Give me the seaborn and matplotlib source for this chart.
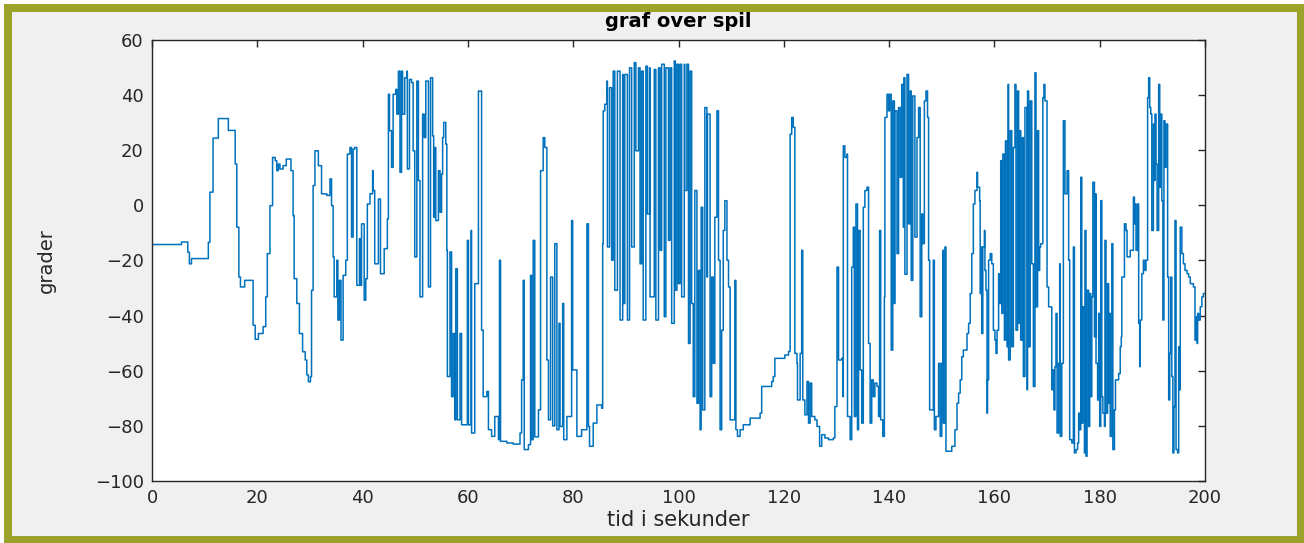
import matplotlib
matplotlib.use("Agg")
import matplotlib.pyplot as plt
from matplotlib.patches import Rectangle
import seaborn as sns
import pandas as pd

# time (s) of each change point and held angle (grader)
tid = [
    0.0, 5.6, 6.8, 7.1, 7.5, 10.7, 11.0, 11.6, 12.6, 14.5, 15.8, 16.1, 16.5, 16.8, 17.6,
    19.2, 19.6, 20.2, 21.1, 21.6, 21.9, 22.4, 22.9, 23.4, 23.7, 24.0, 24.3, 24.9, 25.5,
    26.4, 26.8, 27.0, 27.5, 28.0, 28.6, 29.1, 29.4, 29.7, 30.1, 30.3,
    30.6, 30.95, 31.6, 32.2, 33.2, 33.8, 34.1, 34.4, 34.6, 35.1, 35.3, 35.6, 35.9, 36.3,
    36.8, 37.1, 37.6, 37.9, 38.2, 38.5, 38.9, 39.4, 39.6, 39.8, 40.3, 40.6, 40.9, 41.4,
    41.9, 42.0, 42.3, 43.0, 43.4, 44.1, 44.7, 44.9, 45.1, 45.5, 45.8, 46.3, 46.5, 46.8,
    47.1, 47.4, 47.6, 48.0, 48.4, 48.5, 48.9, 49.3, 49.6, 49.9, 50.3, 50.6, 50.9, 51.4,
    51.7, 52.0, 52.5, 52.9, 53.3, 53.5, 53.7, 53.9, 54.4, 54.7, 55.0, 55.2, 55.4, 55.8,
    56.0, 56.1, 56.6, 56.9, 57.2, 57.5, 57.7, 58.0, 58.5,
    58.8, 59.9, 60.1, 60.6, 60.7, 61.3, 62.0, 62.6, 62.9, 63.6, 63.9, 64.5, 65.1, 65.8,
    66.0, 66.2, 67.4, 68.6, 69.9, 70.2, 70.5, 70.7, 71.5, 71.9, 72.1, 72.4, 72.7, 73.4,
    73.8, 74.3, 74.6, 75.0, 75.3, 75.7, 76.1, 76.5, 76.9, 77.3, 77.5, 78.0, 78.2, 78.8,
    79.7, 79.9, 80.7, 81.6, 82.6, 82.9, 83.1, 83.8, 84.5, 85.4, 85.6, 85.7, 86.0, 86.4,
    86.5, 86.9,
    87.3, 87.6, 87.9, 88.4, 88.9, 89.4, 89.5, 89.8, 90.3, 90.7, 91.1, 91.6, 91.9, 92.4,
    92.7, 93.0, 93.3, 93.8, 94.1, 94.5, 94.6, 95.4, 95.7, 96.2, 96.5, 96.8, 97.3, 97.6,
    98.1, 98.4, 98.7, 99.2, 99.4, 99.7, 100.0, 100.3, 100.6, 101.1, 101.2, 101.6, 101.9,
    102.2, 102.5, 102.8, 103.1, 103.5, 103.8, 104.1, 104.3, 104.6, 105.0, 105.4, 105.5,
    106.0, 106.3, 106.6, 106.9, 107.3, 107.6, 107.9, 108.2, 108.5, 108.8, 109.2, 109.5,
    109.8, 110.4, 110.7, 110.9, 111.2, 111.7, 112.3, 113.6, 115.5, 115.8,
    117.7, 118.0, 118.3, 120.2, 120.9, 121.2, 121.5, 121.8, 122.1, 122.5, 122.6, 123.1,
    123.4, 123.6, 124.0, 124.4, 124.7, 125.0, 125.3, 125.9, 126.3, 126.8, 127.2, 127.8,
    128.5, 129.4, 129.7, 130.1, 130.4, 131.0, 131.2, 131.3, 131.6, 132.0, 132.1, 132.6,
    132.9, 133.2, 133.4, 133.7, 134.0, 134.2, 134.5, 134.8, 135.1, 135.4, 135.8, 136.1,
    136.4, 136.7, 137.0, 137.3, 137.7, 138.0, 138.2, 138.4, 138.8, 139.1, 139.2, 139.6,
    139.9, 140.1, 140.4, 140.7, 141.0, 141.1, 141.5, 141.8, 142.1, 142.4, 142.7, 142.8,
    143.0, 143.4, 143.7,
    144.0, 144.2, 144.5, 144.9, 145.3, 145.6, 145.9, 146.2, 146.4, 146.7, 147.0, 147.3,
    147.5, 147.7, 148.3, 148.4, 148.6, 148.9, 149.4, 149.7, 150.0, 150.2, 150.3, 150.6,
    150.8, 151.9, 152.5, 152.9, 153.2, 153.5, 153.8, 154.1, 154.8, 155.1, 155.4, 155.7,
    156.0, 156.3, 156.7, 156.8, 157.2, 157.3, 157.5, 157.6, 157.8, 158.1, 158.2, 158.4,
    158.6, 158.7, 158.9, 159.2, 159.5, 159.8, 160.1, 160.3, 160.5, 160.8, 161.0, 161.2,
    161.4, 161.6, 161.9, 162.1, 162.4, 162.6, 162.7, 163.0, 163.3, 163.6, 163.9, 164.1,
    164.4, 164.6, 164.8, 165.0, 165.3, 165.5, 165.8, 166.2, 166.3, 166.5, 166.8, 167.1,
    167.4, 167.7, 167.9, 168.2, 168.4, 168.6, 168.8, 169.2, 169.4, 169.6, 170.0, 170.3,
    170.6, 170.9, 171.1, 171.3, 171.5, 171.7, 171.9, 172.2, 172.4, 172.5, 172.8, 173.1,
    173.4, 173.6, 173.8, 174.1, 174.3, 174.7, 175.0, 175.2, 175.5, 175.8, 176.0, 176.2,
    176.4, 176.6, 176.8, 177.1, 177.2, 177.4, 177.6, 177.9, 178.1, 178.3, 178.5, 178.7,
    179.0, 179.2, 179.3, 179.6, 179.8, 180.0, 180.2, 180.4, 180.6, 180.9, 181.0, 181.2,
    181.5, 181.7, 181.9, 182.0, 182.3, 182.5, 182.8, 183.0, 183.6, 183.9, 184.1, 184.2,
    184.7, 185.0, 185.2, 185.8, 186.4, 186.6, 186.7, 186.9, 187.2, 187.4, 187.6, 187.7,
    188.0, 188.3, 188.6, 188.8, 189.1, 189.3, 189.5, 189.7, 189.9, 190.2, 190.4, 190.5,
    190.7, 190.9, 191.2, 191.4, 191.6, 191.8, 192.0, 192.2, 192.4, 192.6, 192.9, 193.1,
    193.3, 193.5, 193.7, 193.9, 194.1, 194.3, 194.5, 194.8, 195.0, 195.2, 195.3, 195.6,
    195.9, 196.2, 196.6, 196.9, 197.2, 197.8, 198.1, 198.3, 198.5, 198.6, 198.8, 199.1,
    199.4, 199.7, 200.0,
]

grader = [
    -14.2, -13.3, -17.0, -21.2, -19.3, -13.4, 4.8, 24.4, 31.5, 27.2, 15.0, -7.9, -26.0, -29.6, -27.2,
    -43.5, -48.6, -46.5, -44.0, -33.2, -17.5, -0.1, 17.4, 16.2, 12.6, 15.0, 13.2, 14.4, 16.8,
    12.6, -3.7, -26.6, -35.6, -46.5, -53.1, -56.1, -61.5, -64.0, -62.1, -30.8,
    7.2, 19.8, 14.4, 4.2, 3.6, 9.6, -0.1, -18.7, -33.2, -19.9, -41.6, -27.2, -48.9, -25.4,
    -19.9, 18.6, 21.0, -11.5, 20.4, 21.0, -29.0, -12.1, -29.0, -6.7, -34.4, -26.6, 0.5, 4.2,
    12.6, 5.4, -21.2, 2.3, -24.8, -15.7, -4.9, 40.3, 27.1, 13.8, 40.3, 42.1, 33.1, 48.7,
    12.0, 48.7, 33.1, 46.3, 48.7, 13.2, 45.7, 44.5, 19.8, -18.7, 45.1, 9.0, -33.2, 33.1,
    24.6, 45.1, -29.6, 46.3, 25.2, -4.3, 21.0, -5.5, 12.6, -2.5, 11.4, 24.6, 30.1, 22.2,
    -16.3, -62.1, -16.9, -69.4, -46.5, -77.8, -23.0, -77.8, -46.5,
    -79.6, -12.7, -79.6, -9.1, -82.6, -28.4, 41.5, -45.3, -69.4, -67.5, -81.4, -83.8, -76.6, -85.0,
    -19.9, -85.6, -86.2, -86.6, -82.6, -63.3, -27.2, -88.6, -86.8, -25.4, -85.0, -12.7, -84.0, -74.2,
    12.6, 24.6, 21.0, -56.1, -77.8, -26.0, -80.0, -13.9, -81.4, -42.8, -80.2, -35.6, -85.0, -76.6,
    -5.5, -59.7, -83.8, -81.4, -6.7, -80.2, -87.4, -79.0, -72.4, -73.6, -13.9, 34.3, 36.7, 45.1,
    -15.1, 42.7,
    -19.9, 48.7, -30.8, 48.7, -41.6, 47.5, -35.6, 47.5, -41.6, 49.9, -15.1, 51.8, 19.8, 49.9,
    -21.2, 48.7, -41.6, 50.5, -3.1, 49.9, -33.2, 49.3, -41.6, 49.9, -16.3, 51.2, -40.4, 49.9,
    -12.7, 49.9, -42.8, 52.4, -30.8, 51.2, -28.4, 51.2, -33.2, 51.2, 5.4, 51.2, -50.1,
    48.7, -35.6, -69.4, 5.4, -71.8, -23.6, -81.4, -0.7, -74.2, 35.5, -26.0, 33.1,
    -69.4, -26.0, -57.3, -4.3, 34.3, -19.9, -81.4, -45.3, -9.1, 1.7, -19.9, -29.6,
    -77.8, -77.8, -27.2, -81.4, -83.8, -81.4, -79.6, -77.2, -75.4, -65.7,
    -63.9, -62.1, -55.5, -54.3, -53.0, 25.8, 31.9, 28.3, -53.7, -57.3, -70.6, -53.7,
    -16.3, -70.6, -76.0, -63.9, -79.0, -64.5, -76.6, -77.8, -80.2, -87.4, -83.2, -84.4,
    -85.0, -84.4, -73.0, -22.4, -56.1, -55.5, -69.4, 21.6, 17.4, 18.6, -76.6, -85.0,
    -22.4, -7.9, -76.6, 0.5, -81.4, -9.1, -59.7, -79.0, -0.7, 5.4, 6.6, -50.1,
    -79.0, -63.3, -69.4, -64.5, -65.7, -76.6, -9.1, -77.8, -83.8, -33.2, 31.9, 40.3,
    34.3, 40.3, -52.5, 37.9, -35.6, 34.3, -17.5, 35.5, 10.2, 43.9, -7.9, 46.3,
    -25.0, 47.5, -6.7,
    41.5, -27.2, 39.7, -11.5, 24.6, 35.5, -40.4, -3.1, -13.9, 37.9, 41.5, 31.9,
    -19.9, -74.2, -74.2, -19.9, -81.4, -76.6, -57.3, -83.8, -57.3, -16.3, -79.0, -15.1,
    -89.2, -87.4, -81.4, -71.8, -68.1, -63.3, -54.9, -52.5, -46.5, -42.8, -32.0, -17.5,
    0.5, 5.4, 12.0, 6.6, 1.7, -32.0, -15.1, -46.5, -15.1, -9.1, -23.6, -30.8,
    -75.4, -63.3, -19.9, -17.5, -21.2, -45.3, -48.9, -53.7, -45.3, -24.8, -35.6, 16.2,
    -39.2, 18.6, -48.9, 23.4, -51.3, 43.9, -56.1, 27.1, -51.3, 21.0, 43.9, -45.3,
    41.5, -42.8, 27.1, -48.9, 24.6, -62.1, 35.5, -66.9, 41.5, -51.3, 37.9, -21.2,
    -65.7, 48.1, -36.8, 27.1, -23.6, -15.1, -13.9, 39.1, 43.9, 37.9, -29.6, -36.8,
    -36.8, -66.9, -59.7, -74.2, -58.5, -39.2, -82.6, -57.3, -21.2, -83.8, -57.3, 30.7,
    4.2, 4.2, 12.6, -19.9, -85.0, -86.2, -15.1, -89.8, -88.6, -86.2, -75.4, -81.4,
    10.2, -79.0, -36.8, -89.8, -9.1, -91.0, -30.8, -80.2, -32.0, -69.4, -33.2, 8.4,
    -47.7, 4.2, -57.3, -70.6, -39.2, -80.2, 1.7, -69.4, -75.4, -80.2, -12.7, -75.4,
    -28.4, -71.8, -39.2, -83.8, -13.9, -88.6, -74.2, -63.3, -61.0, -51.3, -47.7, -26.0,
    -6.7, -9.1, -18.7, -16.3, 3.0, -6.7, 0.5, -16.3, 0.5, -42.8, -58.5, -41.6,
    -24.8, -19.9, -23.6, -19.9, 39.1, 46.3, 35.5, 33.1, -9.1, 29.5, 9.0, 33.1,
    15.0, -9.1, 43.9, 6.6, 33.1, 1.7, -41.6, 30.7, 13.8, 29.5, -26.0, -70.6,
    -53.7, -26.0, -62.1, -89.8, -73.0, -5.5, -88.6, -89.8, -51.3, -66.9, -7.9, -17.5,
    -21.2, -23.6, -24.8, -26.0, -28.4, -29.6, -48.9, -40.4, -50.1, -39.2, -41.6, -36.8,
    -33.2, -32.0, -32.0,
]

xticks = [0, 20, 40, 60, 80, 100, 120, 140, 160, 180, 200]
yticks = [-100, -80, -60, -40, -20, 0, 20, 40, 60]

df = pd.DataFrame({"tid": tid, "grader": grader})

sns.set_theme(style="white")
plt.rcParams["font.family"] = ["DejaVu Sans"]

fig = plt.figure(figsize=(13.04, 5.43), dpi=100)
fig.patch.set_facecolor("white")
olive = "#9ca32b"
fig.patches.append(Rectangle((8 / 1304, 3 / 543), 1293 / 1304, 532 / 543,
                             transform=fig.transFigure, facecolor="#f0f0f0",
                             edgecolor=olive, linewidth=5.8, zorder=-10))

ax = fig.add_axes([152 / 1304, 1 - 481 / 543, (1205 - 152) / 1304, (481 - 40) / 543])
ax.set_facecolor("white")

sns.lineplot(data=df, x="tid", y="grader", ax=ax, color="#0072BD", linewidth=1.1,
             drawstyle="steps-post", estimator=None, sort=False)

ax.set_xlim(0, 200)
ax.set_ylim(-100, 60)
ax.set_xticks(xticks)
ax.set_yticks(yticks)
ax.tick_params(direction="in", length=5, width=1, top=True, right=True,
               labelsize=13, colors="#262626", pad=6)
for s in ax.spines.values():
    s.set_visible(True)
    s.set_color("#262626")
    s.set_linewidth(1.0)

ax.set_title("graf over spil", fontsize=14, fontweight="bold", pad=9, color="black")
ax.set_xlabel("tid i sekunder", fontsize=15, color="#262626", labelpad=2)
ax.set_ylabel("grader", fontsize=14, color="#262626", labelpad=28)

fig.savefig("out.png", dpi=100, facecolor=fig.get_facecolor())
